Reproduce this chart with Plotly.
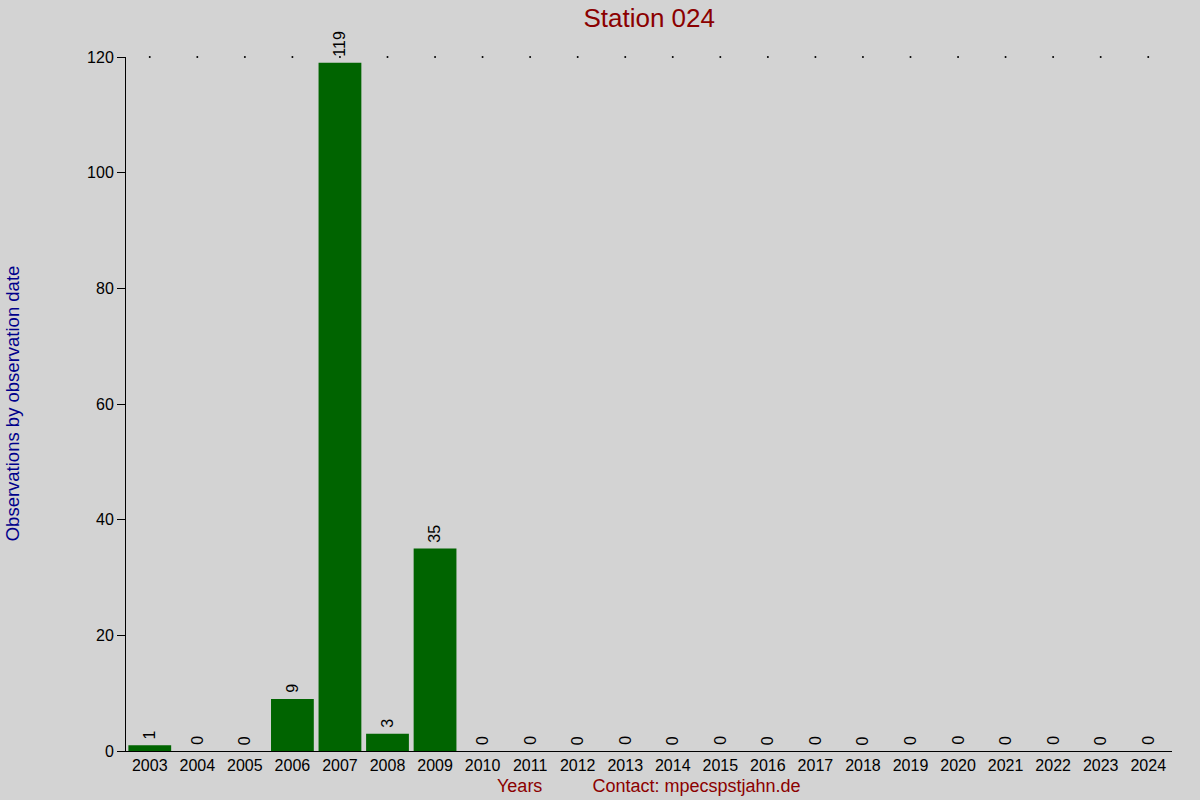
import plotly.graph_objects as go

years = [str(y) for y in range(2003, 2025)]
counts = [1, 0, 0, 9, 119, 3, 35, 0, 0, 0, 0, 0, 0, 0, 0, 0, 0, 0, 0, 0, 0, 0]
y_ticks = [0, 20, 40, 60, 80, 100, 120]

fig = go.Figure()
fig.add_bar(
    x=years,
    y=counts,
    marker_color="#006400",
    marker_line_width=0,
    width=0.9,
)
# value labels, rotated, a little above each bar (x = category index)
for i, c in enumerate(counts):
    fig.add_annotation(
        x=i, y=c, text=str(c), textangle=-90, showarrow=False,
        yanchor="bottom", yshift=4, font=dict(size=16, color="black"),
    )
# dotted marks along the top
fig.add_scatter(
    x=years,
    y=[120] * len(years),
    mode="markers",
    marker=dict(size=2, color="black"),
    hoverinfo="skip",
    cliponaxis=False,
)
fig.add_annotation(
    text="Years" + "&nbsp;" * 10 + "Contact: mpecspstjahn.de",
    xref="paper", yref="paper", x=0.5, y=-0.0504, yanchor="middle",
    showarrow=False, font=dict(size=18, color="#8b0000"),
)
fig.add_annotation(
    text="Observations by observation date", textangle=-90,
    xref="paper", yref="paper", x=-0.109, y=0.501, xanchor="center", yanchor="middle",
    showarrow=False, font=dict(size=18.5, color="#00008b"),
)
fig.update_layout(
    title=dict(text="Station 024", x=0.541, xanchor="center",
               y=1 - 18 / 800, yanchor="middle",
               font=dict(size=26, color="#8b0000")),
    paper_bgcolor="#d3d3d3",
    plot_bgcolor="#d3d3d3",
    font=dict(family="Liberation Sans, Arial, sans-serif", size=16, color="black"),
    showlegend=False,
    width=1200,
    height=800,
    margin=dict(t=57, r=28, b=49, l=126),
    xaxis=dict(
        type="category", range=[-0.5, 21.5], automargin=False,
        showline=True, linecolor="black", linewidth=1,
        ticks="", showgrid=False, tickfont=dict(size=16),
    ),
    yaxis=dict(
        range=[0, 120], automargin=False,
        tickvals=y_ticks,
        showline=True, linecolor="black", linewidth=1,
        ticks="outside", ticklen=8, tickcolor="black",
        showgrid=False, zeroline=False, tickfont=dict(size=16),
    ),
    bargap=0.1,
)
fig.write_html(
    "out.html",
    config={"displayModeBar": False},
    post_script="document.body.style.margin='0';document.body.style.overflow='hidden';",
)
